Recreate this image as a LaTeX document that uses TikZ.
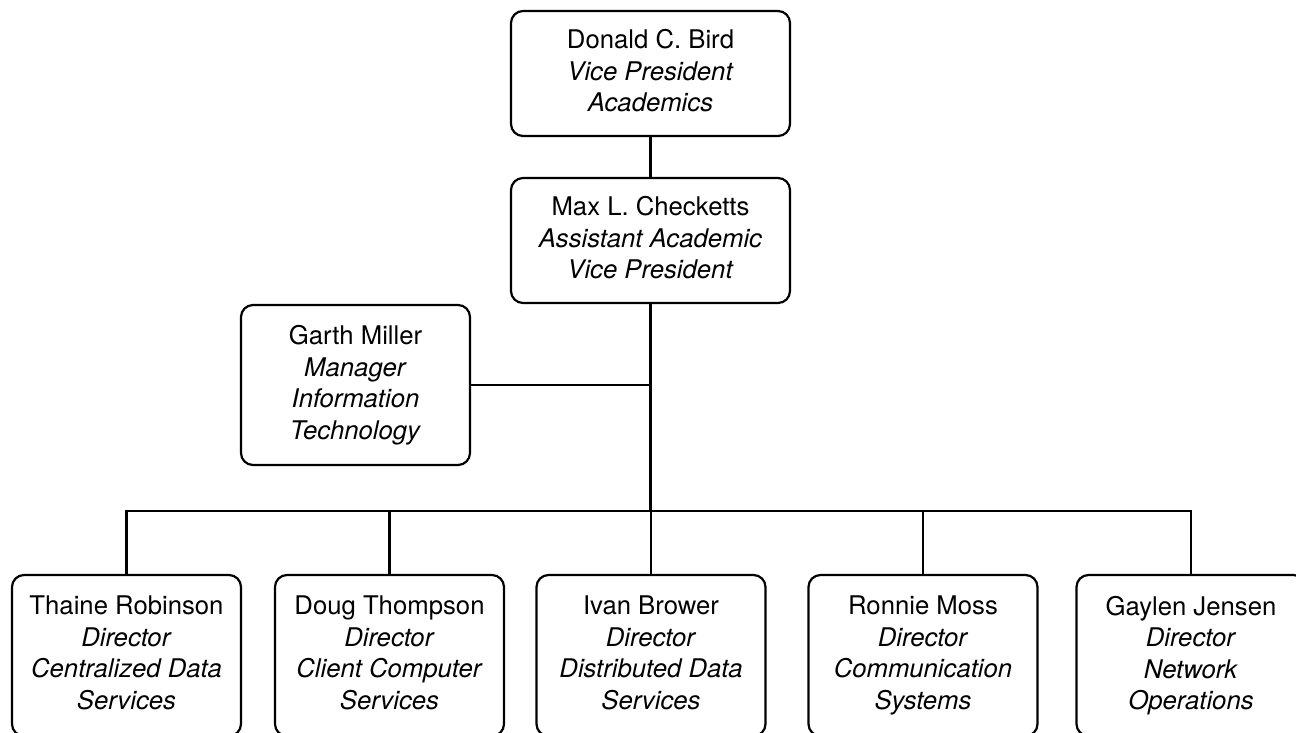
\documentclass[tikz,border=0pt]{standalone}
\usepackage{fontspec}
\setmainfont{TeX Gyre Heros}
\begin{document}
\begin{tikzpicture}[x=1pt,y=-1pt,
  card/.style={draw, line width=2.2pt, rounded corners=12pt, align=center,
    font=\fontsize{25.7}{31.5}\selectfont, inner sep=0pt,
    execute at begin node={\rule{0pt}{22.5pt}},
    execute at end node={\rule[-5.5pt]{0pt}{1pt}}},
  upper/.style={card, minimum width=279pt, minimum height=125pt},
  lower/.style={card, minimum width=229pt, minimum height=161pt},
  link/.style={line width=2.2pt}]
\useasboundingbox (0,0) rectangle (1296,732);
\clip (0,0) rectangle (1296,732);

% management chain
\node[upper] (vp) at (650.5,73.5) {Donald C. Bird\\ \textit{Vice President}\\ \textit{Academics}};
\node[upper] (avp) at (650.5,240.5) {Max L. Checketts\\ \textit{Assistant Academic}\\ \textit{Vice President}};
\node[card, minimum width=229pt, minimum height=160pt] (it) at (355.5,385)
  {Garth Miller\\ \textit{Manager}\\ \textit{Information}\\ \textit{Technology}};

% directors
\node[lower] (d1) at (126.5,655.5) {Thaine Robinson\\ \textit{Director}\\ \textit{Centralized Data}\\ \textit{Services}};
\node[lower] (d2) at (389.5,655.5) {Doug Thompson\\ \textit{Director}\\ \textit{Client Computer}\\ \textit{Services}};
\node[lower] (d3) at (651,655.5) {Ivan Brower\\ \textit{Director}\\ \textit{Distributed Data}\\ \textit{Services}};
\node[lower] (d4) at (923,655.5) {Ronnie Moss\\ \textit{Director}\\ \textit{Communication}\\ \textit{Systems}};
\node[lower] (d5) at (1191,655.5) {Gaylen Jensen\\ \textit{Director}\\ \textit{Network}\\ \textit{Operations}};

\coordinate (bus) at (650.5,511);

% connectors
\draw[link] (vp.south) -- (avp.south |- vp.south) -- (avp.north);
\draw[link] (avp.south) -- (bus);
\draw[link] (it.east) -- (it.east -| avp.south);
\draw[link] (d1.north) -- (d1.north |- bus) -- (d5.north |- bus) -- (d5.north);
\draw[link] (d2.north |- bus) -- (d2.north);
\draw[link] (d3.north |- bus) -- (d3.north);
\draw[link] (d4.north |- bus) -- (d4.north);
\end{tikzpicture}
\end{document}
